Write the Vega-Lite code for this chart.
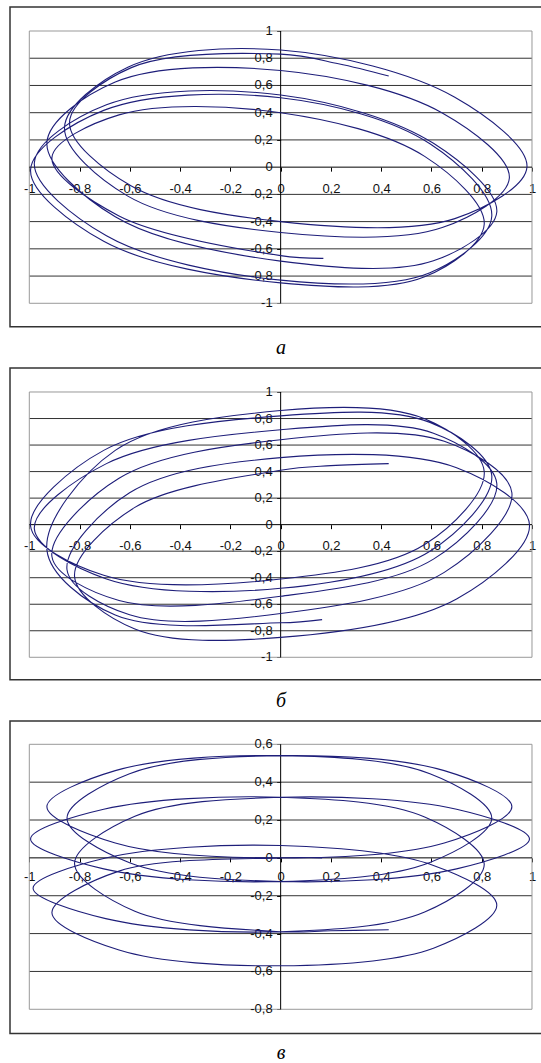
{
"$schema":"https://vega.github.io/schema/vega-lite/v6.json",
"background":"white",
"padding":{"left":9,"top":6,"right":0,"bottom":0},
"spacing":8,
"config":{
 "view":{"stroke":"#333","strokeWidth":1.5},
 "axis":{"labelFont":"Liberation Sans Narrow, Arial Narrow, Liberation Sans, Arial","labelFontSize":13,"labelColor":"#111","tickColor":"#000","tickWidth":1,"tickSize":4,"domain":false,"grid":false,"labelFlush":false,"labelOverlap":false,"labelBound":false,
  "labelExpr":"replace(replace(format(datum.value, '.1~f'), '.', ','), '\u2212', '-')"},
 "axisX":{"labelPadding":11},
 "axisY":{"labelPadding":4},
 "title":{"font":"Liberation Serif","fontStyle":"italic","fontWeight":"normal","fontSize":20,"color":"#000"}
},
"datasets":{
 "pa":[
  {"i":1,"x":0.43,"y":0.67},{"i":2,"x":0.23,"y":0.76},{"i":3,"x":0,"y":0.83},{"i":4,"x":-0.594,"y":0.731},{"i":5,"x":-0.84,"y":0.33},{"i":6,"x":-0.594,"y":-0.139},{"i":7,"x":0,"y":-0.4},{"i":8,"x":0.693,"y":-0.378},{"i":9,"x":0.98,"y":0.0},{"i":10,"x":0.693,"y":0.513},
  {"i":11,"x":0,"y":0.86},{"i":12,"x":-0.608,"y":0.734},{"i":13,"x":-0.86,"y":0.29},{"i":14,"x":-0.608,"y":-0.213},{"i":15,"x":0,"y":-0.48},{"i":16,"x":0.643,"y":-0.444},{"i":17,"x":0.91,"y":-0.08},{"i":18,"x":0.643,"y":0.398},
  {"i":19,"x":0,"y":0.71},{"i":20,"x":-0.658,"y":0.625},{"i":21,"x":-0.93,"y":0.18},{"i":22,"x":-0.658,"y":-0.365},{"i":23,"x":0,"y":-0.69},{"i":24,"x":0.608,"y":-0.688},{"i":25,"x":0.86,"y":-0.33},{"i":26,"x":0.608,"y":0.175},
  {"i":27,"x":0,"y":0.53},{"i":28,"x":-0.693,"y":0.458},{"i":29,"x":-0.98,"y":0.03},{"i":30,"x":-0.693,"y":-0.504},{"i":31,"x":0,"y":-0.83},{"i":32,"x":0.594,"y":-0.775},{"i":33,"x":0.84,"y":-0.36},{"i":34,"x":0.594,"y":0.172},
  {"i":35,"x":0,"y":0.51},{"i":36,"x":-0.704,"y":0.417},{"i":37,"x":-0.995,"y":-0.02},{"i":38,"x":-0.704,"y":-0.545},{"i":39,"x":0,"y":-0.85},{"i":40,"x":0.573,"y":-0.805},{"i":41,"x":0.81,"y":-0.42},{"i":42,"x":0.573,"y":0.079},
  {"i":43,"x":0,"y":0.4},{"i":44,"x":-0.643,"y":0.384},{"i":45,"x":-0.91,"y":0.07},{"i":46,"x":-0.643,"y":-0.358},{"i":47,"x":0,"y":-0.65},{"i":48,"x":0.17,"y":-0.67}
 ],
 "pb":[
  {"i":1,"x":0.165,"y":-0.716},{"i":2,"x":0,"y":-0.74},{"i":3,"x":-0.658,"y":-0.682},{"i":4,"x":-0.93,"y":-0.19},{"i":5,"x":-0.658,"y":0.56},{"i":6,"x":0,"y":0.86},{"i":7,"x":0.573,"y":0.798},{"i":8,"x":0.81,"y":0.4},{"i":9,"x":0.573,"y":-0.15},
  {"i":10,"x":0,"y":-0.41},{"i":11,"x":-0.704,"y":-0.382},{"i":12,"x":-0.995,"y":-0.01},{"i":13,"x":-0.704,"y":0.56},{"i":14,"x":0,"y":0.82},{"i":15,"x":0.594,"y":0.771},{"i":16,"x":0.84,"y":0.37},{"i":17,"x":0.594,"y":-0.2},
  {"i":18,"x":0,"y":-0.48},{"i":19,"x":-0.693,"y":-0.409},{"i":20,"x":-0.98,"y":-0.03},{"i":21,"x":-0.693,"y":0.46},{"i":22,"x":0,"y":0.715},{"i":23,"x":0.608,"y":0.689},{"i":24,"x":0.86,"y":0.31},{"i":25,"x":0.608,"y":-0.26},
  {"i":26,"x":0,"y":-0.54},{"i":27,"x":-0.643,"y":-0.572},{"i":28,"x":-0.91,"y":-0.24},{"i":29,"x":-0.643,"y":0.35},{"i":30,"x":0,"y":0.64},{"i":31,"x":0.651,"y":0.628},{"i":32,"x":0.92,"y":0.24},{"i":33,"x":0.651,"y":-0.36},
  {"i":34,"x":0,"y":-0.67},{"i":35,"x":-0.601,"y":-0.68},{"i":36,"x":-0.85,"y":-0.34},{"i":37,"x":-0.601,"y":0.24},{"i":38,"x":0,"y":0.505},{"i":39,"x":0.7,"y":0.429},{"i":40,"x":0.99,"y":0.0},{"i":41,"x":0.7,"y":-0.56},
  {"i":42,"x":0,"y":-0.85},{"i":43,"x":-0.58,"y":-0.786},{"i":44,"x":-0.82,"y":-0.39},{"i":45,"x":-0.58,"y":0.13},{"i":46,"x":0,"y":0.41},{"i":47,"x":0.2,"y":0.445},{"i":48,"x":0.43,"y":0.46}
 ],
 "pc":[
  {"i":1,"x":0.43,"y":-0.38},{"i":2,"x":0.2,"y":-0.385},{"i":3,"x":0,"y":-0.39},{"i":4,"x":-0.58,"y":-0.282},{"i":5,"x":-0.82,"y":-0.03},{"i":6,"x":-0.58,"y":0.22},{"i":7,"x":0,"y":0.32},{"i":8,"x":0.7,"y":0.257},{"i":9,"x":0.99,"y":0.1},{"i":10,"x":0.7,"y":-0.058},
  {"i":11,"x":0,"y":-0.125},{"i":12,"x":-0.601,"y":-0.026},{"i":13,"x":-0.85,"y":0.21},{"i":14,"x":-0.601,"y":0.445},{"i":15,"x":0,"y":0.54},{"i":16,"x":0.651,"y":0.461},{"i":17,"x":0.92,"y":0.27},{"i":18,"x":0.651,"y":0.079},
  {"i":19,"x":0,"y":0.0},{"i":20,"x":-0.658,"y":0.079},{"i":21,"x":-0.93,"y":0.27},{"i":22,"x":-0.658,"y":0.461},{"i":23,"x":0,"y":0.54},{"i":24,"x":0.594,"y":0.445},{"i":25,"x":0.84,"y":0.21},{"i":26,"x":0.594,"y":-0.024},
  {"i":27,"x":0,"y":-0.125},{"i":28,"x":-0.704,"y":-0.058},{"i":29,"x":-0.995,"y":0.1},{"i":30,"x":-0.704,"y":0.257},{"i":31,"x":0,"y":0.32},{"i":32,"x":0.573,"y":0.216},{"i":33,"x":0.81,"y":-0.035},{"i":34,"x":0.573,"y":-0.286},
  {"i":35,"x":0,"y":-0.39},{"i":36,"x":-0.696,"y":-0.321},{"i":37,"x":-0.985,"y":-0.16},{"i":38,"x":-0.696,"y":-0.001},{"i":39,"x":0,"y":0.065},{"i":40,"x":0.608,"y":-0.04},{"i":41,"x":0.86,"y":-0.25},{"i":42,"x":0.608,"y":-0.477},
  {"i":43,"x":0,"y":-0.57},{"i":44,"x":-0.643,"y":-0.487},{"i":45,"x":-0.91,"y":-0.29},{"i":46,"x":-0.643,"y":-0.07},{"i":47,"x":0,"y":0.0},{"i":48,"x":0.165,"y":0.0}
 ],
 "gab":[{"g":-0.8},{"g":-0.6},{"g":-0.4},{"g":-0.2},{"g":0.2},{"g":0.4},{"g":0.6},{"g":0.8}],
 "gc":[{"g":-0.6},{"g":-0.4},{"g":-0.2},{"g":0.2},{"g":0.4}],
 "yab":[{"v":-1,"t":"-1"},{"v":-0.8,"t":"-0,8"},{"v":-0.6,"t":"-0,6"},{"v":-0.4,"t":"-0,4"},{"v":-0.2,"t":"-0,2"},{"v":0,"t":"0"},{"v":0.2,"t":"0,2"},{"v":0.4,"t":"0,4"},{"v":0.6,"t":"0,6"},{"v":0.8,"t":"0,8"},{"v":1,"t":"1"}],
 "yc":[{"v":-0.8,"t":"-0,8"},{"v":-0.6,"t":"-0,6"},{"v":-0.4,"t":"-0,4"},{"v":-0.2,"t":"-0,2"},{"v":0,"t":"0"},{"v":0.2,"t":"0,2"},{"v":0.4,"t":"0,4"},{"v":0.6,"t":"0,6"}],
 "one":[{"k":1}]
},
"vconcat":[
 {
  "width":534,"height":319.7,
  "title":{"text":"а","orient":"bottom","anchor":"middle","offset":11,"dx":4},
  "layer":[
   {"data":{"name":"gab"},"mark":{"type":"rule","color":"#333","strokeWidth":1},
    "encoding":{
     "y":{"field":"g","type":"quantitative","title":null,"scale":{"domain":[-1.1719,1.1763],"nice":false,"zero":false},"axis":{"orient":"left","offset":-270.64,"values":[-1,-0.8,-0.6,-0.4,-0.2,0,0.2,0.4,0.6,0.8,1],"title":null,"labels":false}},
     "x":{"datum":-1,"type":"quantitative","title":null,"scale":{"domain":[-1.0768,1.0478],"nice":false,"zero":false},"axis":{"orient":"bottom","offset":-159.55,"values":[-1,-0.8,-0.6,-0.4,-0.2,0,0.2,0.4,0.6,0.8,1],"title":null,"labelOverlap":false}},
     "x2":{"datum":1}}},
   {"data":{"name":"one"},"mark":{"type":"rect","fill":null,"fillOpacity":0,"stroke":"#999","strokeWidth":1},
    "encoding":{"x":{"datum":-1,"type":"quantitative","title":null},"x2":{"datum":1},"y":{"datum":-1,"type":"quantitative","title":null},"y2":{"datum":1}}},
   {"data":{"name":"one"},"mark":{"type":"rule","color":"#000","strokeWidth":1},
    "encoding":{"x":{"datum":-1,"type":"quantitative","title":null},"x2":{"datum":1},"y":{"datum":0,"type":"quantitative","title":null}}},
   {"data":{"name":"one"},"mark":{"type":"rule","color":"#000","strokeWidth":1},
    "encoding":{"x":{"datum":0,"type":"quantitative","title":null},"y":{"datum":-1,"type":"quantitative","title":null},"y2":{"datum":1}}},
   {"data":{"name":"yab"},"mark":{"type":"text","align":"right","baseline":"middle","dx":-8,"font":"Liberation Sans Narrow, Arial Narrow, Liberation Sans, Arial","fontSize":13,"color":"#111"},
    "encoding":{"x":{"datum":0,"type":"quantitative","title":null},"y":{"field":"v","type":"quantitative","title":null},"text":{"field":"t"}}},
   {"data":{"name":"pa"},"mark":{"type":"line","interpolate":"catmull-rom","color":"#1e1e7a","strokeWidth":1.1},
    "encoding":{
     "x":{"field":"x","type":"quantitative","title":null},
     "y":{"field":"y","type":"quantitative","title":null},
     "order":{"field":"i","type":"quantitative"}}}
  ]
 },
 {
  "width":534,"height":311.7,
  "title":{"text":"б","orient":"bottom","anchor":"middle","offset":11,"dx":4},
  "layer":[
   {"data":{"name":"gab"},"mark":{"type":"rule","color":"#333","strokeWidth":1},
    "encoding":{
     "y":{"field":"g","type":"quantitative","title":null,"scale":{"domain":[-1.1689,1.1809],"nice":false,"zero":false},"axis":{"orient":"left","offset":-270.64,"values":[-1,-0.8,-0.6,-0.4,-0.2,0,0.2,0.4,0.6,0.8,1],"title":null,"labels":false}},
     "x":{"datum":-1,"type":"quantitative","title":null,"scale":{"domain":[-1.0768,1.0478],"nice":false,"zero":false},"axis":{"orient":"bottom","offset":-155.05,"values":[-1,-0.8,-0.6,-0.4,-0.2,0,0.2,0.4,0.6,0.8,1],"title":null,"labelOverlap":false}},
     "x2":{"datum":1}}},
   {"data":{"name":"one"},"mark":{"type":"rect","fill":null,"fillOpacity":0,"stroke":"#999","strokeWidth":1},
    "encoding":{"x":{"datum":-1,"type":"quantitative","title":null},"x2":{"datum":1},"y":{"datum":-1,"type":"quantitative","title":null},"y2":{"datum":1}}},
   {"data":{"name":"one"},"mark":{"type":"rule","color":"#000","strokeWidth":1},
    "encoding":{"x":{"datum":-1,"type":"quantitative","title":null},"x2":{"datum":1},"y":{"datum":0,"type":"quantitative","title":null}}},
   {"data":{"name":"one"},"mark":{"type":"rule","color":"#000","strokeWidth":1},
    "encoding":{"x":{"datum":0,"type":"quantitative","title":null},"y":{"datum":-1,"type":"quantitative","title":null},"y2":{"datum":1}}},
   {"data":{"name":"yab"},"mark":{"type":"text","align":"right","baseline":"middle","dx":-8,"font":"Liberation Sans Narrow, Arial Narrow, Liberation Sans, Arial","fontSize":13,"color":"#111"},
    "encoding":{"x":{"datum":0,"type":"quantitative","title":null},"y":{"field":"v","type":"quantitative","title":null},"text":{"field":"t"}}},
   {"data":{"name":"pb"},"mark":{"type":"line","interpolate":"catmull-rom","color":"#1e1e7a","strokeWidth":1.1},
    "encoding":{
     "x":{"field":"x","type":"quantitative","title":null},
     "y":{"field":"y","type":"quantitative","title":null},
     "order":{"field":"i","type":"quantitative"}}}
  ]
 },
 {
  "width":534,"height":312.6,
  "title":{"text":"в","orient":"bottom","anchor":"middle","offset":9,"dx":4},
  "layer":[
   {"data":{"name":"gc"},"mark":{"type":"rule","color":"#333","strokeWidth":1},
    "encoding":{
     "y":{"field":"g","type":"quantitative","title":null,"scale":{"domain":[-0.9284,0.7231],"nice":false,"zero":false},"axis":{"orient":"left","offset":-270.64,"values":[-0.8,-0.6,-0.4,-0.2,0,0.2,0.4,0.6],"title":null,"labels":false}},
     "x":{"datum":-1,"type":"quantitative","title":null,"scale":{"domain":[-1.0768,1.0478],"nice":false,"zero":false},"axis":{"orient":"bottom","offset":-175.73,"values":[-1,-0.8,-0.6,-0.4,-0.2,0,0.2,0.4,0.6,0.8,1],"title":null,"labelPadding":9,"labelOverlap":false}},
     "x2":{"datum":1}}},
   {"data":{"name":"one"},"mark":{"type":"rect","fill":null,"fillOpacity":0,"stroke":"#999","strokeWidth":1},
    "encoding":{"x":{"datum":-1,"type":"quantitative","title":null},"x2":{"datum":1},"y":{"datum":-0.8,"type":"quantitative","title":null},"y2":{"datum":0.6}}},
   {"data":{"name":"one"},"mark":{"type":"rule","color":"#000","strokeWidth":1},
    "encoding":{"x":{"datum":-1,"type":"quantitative","title":null},"x2":{"datum":1},"y":{"datum":0,"type":"quantitative","title":null}}},
   {"data":{"name":"one"},"mark":{"type":"rule","color":"#000","strokeWidth":1},
    "encoding":{"x":{"datum":0,"type":"quantitative","title":null},"y":{"datum":-0.8,"type":"quantitative","title":null},"y2":{"datum":0.6}}},
   {"data":{"name":"yc"},"mark":{"type":"text","align":"right","baseline":"middle","dx":-8,"font":"Liberation Sans Narrow, Arial Narrow, Liberation Sans, Arial","fontSize":13,"color":"#111"},
    "encoding":{"x":{"datum":0,"type":"quantitative","title":null},"y":{"field":"v","type":"quantitative","title":null},"text":{"field":"t"}}},
   {"data":{"name":"pc"},"mark":{"type":"line","interpolate":"catmull-rom","color":"#1e1e7a","strokeWidth":1.1},
    "encoding":{
     "x":{"field":"x","type":"quantitative","title":null},
     "y":{"field":"y","type":"quantitative","title":null},
     "order":{"field":"i","type":"quantitative"}}}
  ]
 }
]
}
